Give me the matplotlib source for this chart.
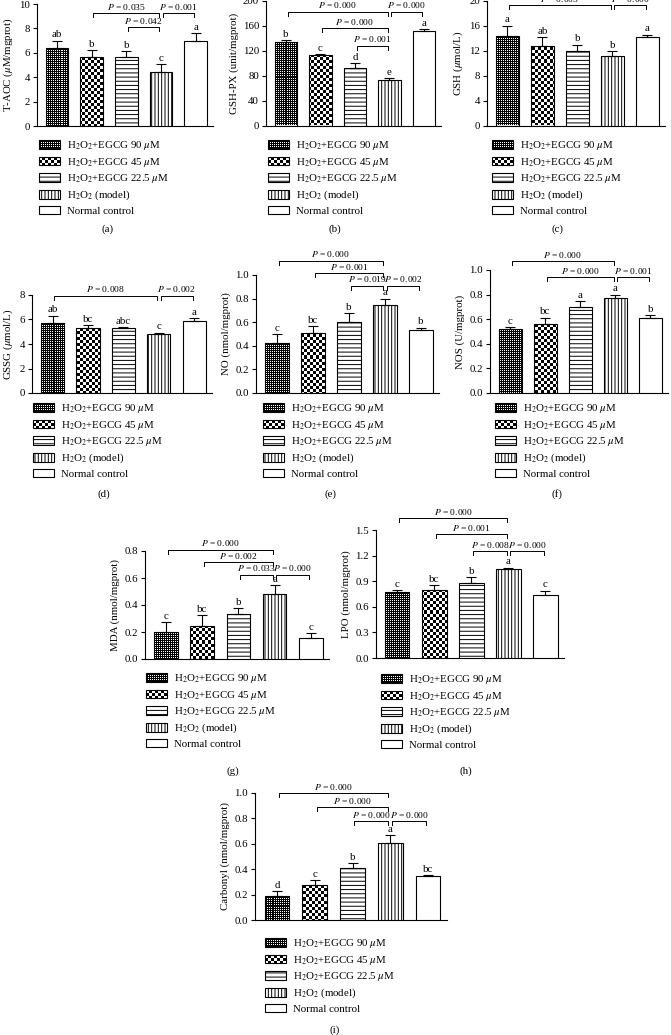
import numpy as np
import matplotlib
matplotlib.use("Agg")
import matplotlib.pyplot as plt
from matplotlib.patches import Rectangle, Patch
from matplotlib.legend_handler import HandlerBase
from matplotlib.ticker import FormatStrFormatter

plt.rcParams['font.family'] = ['Liberation Serif', 'DejaVu Serif']
plt.rcParams['mathtext.fontset'] = 'stix'
plt.rcParams['hatch.linewidth'] = 0.7

# -----------------------------------
# Data
# -----------------------------------
groups = [r"H$_2$O$_2$+EGCG 90 $\mu$M", r"H$_2$O$_2$+EGCG 45 $\mu$M",
          r"H$_2$O$_2$+EGCG 22.5 $\mu$M", r"H$_2$O$_2$ (model)", "Normal control"]

taoc_mean = [6.37, 5.68, 5.63, 4.45, 6.97]
taoc_err = [0.63, 0.55, 0.54, 0.63, 0.63]
taoc_letters = ["ab", "b", "b", "c", "a"]
taoc_pvals = [(1, 3, "0.035"), (3, 4, "0.001"), (2, 3, "0.042")]

gshpx_mean = [133, 113, 92, 72.5, 151.5]
gshpx_err = [4.3, 1.0, 8.5, 2.8, 3.2]
gshpx_letters = ["b", "c", "d", "e", "a"]
gshpx_pvals = [(0, 3, "0.000"), (3, 4, "0.000"), (1, 3, "0.000"), (2, 3, "0.001")]

gsh_mean = [14.4, 12.7, 12.0, 11.2, 14.2]
gsh_err = [1.6, 1.4, 0.95, 0.65, 0.35]
gsh_letters = ["a", "ab", "b", "b", "a"]
gsh_pvals = [(0, 3, "0.005"), (3, 4, "0.000")]

gssg_mean = [5.68, 5.28, 5.33, 4.80, 5.87]
gssg_err = [0.64, 0.24, 0.06, 0.13, 0.26]
gssg_letters = ["ab", "bc", "abc", "c", "a"]
gssg_pvals = [(0, 3, "0.008"), (3, 4, "0.002")]

no_mean = [0.42, 0.51, 0.60, 0.75, 0.535]
no_err = [0.08, 0.06, 0.075, 0.05, 0.02]
no_letters = ["c", "bc", "b", "a", "b"]
no_pvals = [(0, 3, "0.000"), (1, 3, "0.001"), (2, 3, "0.019"), (3, 4, "0.002")]

nos_mean = [0.52, 0.565, 0.70, 0.77, 0.613]
nos_err = [0.013, 0.048, 0.05, 0.03, 0.024]
nos_letters = ["c", "bc", "a", "a", "b"]
nos_pvals = [(0, 3, "0.000"), (1, 3, "0.000"), (3, 4, "0.001")]

mda_mean = [0.20, 0.245, 0.335, 0.48, 0.155]
mda_err = [0.075, 0.08, 0.04, 0.07, 0.04]
mda_letters = ["c", "bc", "b", "a", "c"]
mda_pvals = [(0, 3, "0.000"), (1, 3, "0.002"), (2, 3, "0.033"), (3, 4, "0.000")]

lpo_mean = [0.77, 0.80, 0.88, 1.04, 0.74]
lpo_err = [0.03, 0.06, 0.07, 0.02, 0.05]
lpo_letters = ["c", "bc", "b", "a", "c"]
lpo_pvals = [(0, 3, "0.000"), (1, 3, "0.001"), (2, 3, "0.008"), (3, 4, "0.000")]

carb_mean = [0.19, 0.277, 0.41, 0.61, 0.343]
carb_err = [0.035, 0.04, 0.04, 0.058, 0.012]
carb_letters = ["d", "c", "b", "a", "bc"]
carb_pvals = [(0, 3, "0.000"), (1, 3, "0.000"), (2, 3, "0.000"), (3, 4, "0.000")]

# -----------------------------------
# Layout (pixels in a 671 x 1035 canvas)
# -----------------------------------
W, H = 671, 1035
fig = plt.figure(figsize=(W / 100, H / 100), dpi=100)

FS = 7.8
PFS = 6.8
PX = 72 / 100  # one pixel in points

# fill patterns: 1 = white, 0 = black
motif_90 = [[1, 0], [0, 0]]
motif_45 = [[1, 1, 1, 0, 0, 0]] * 3 + [[0, 0, 0, 1, 1, 1]] * 3


def tile(motif, h, w):
    m = np.array(motif, dtype=float)
    return np.tile(m, (h // m.shape[0] + 1, w // m.shape[1] + 1))[:h, :w]


class CheckerHandler(HandlerBase):
    def __init__(self, motif):
        super().__init__()
        self.motif = np.array(motif)

    def create_artists(self, legend, orig_handle, xdescent, ydescent,
                       width, height, fontsize, trans):
        x0, y0 = -xdescent, -ydescent
        arts = [Rectangle((x0, y0), width, height, facecolor='black',
                          edgecolor='none', transform=trans)]
        nx = int(width / PX)
        ny = int(height / PX)
        t = tile(self.motif, ny, nx)
        for j in range(ny):
            for i in range(nx):
                if t[j, i] > 0:
                    arts.append(Rectangle((x0 + i * PX, y0 + height - (j + 1) * PX),
                                          PX, PX, facecolor='white',
                                          edgecolor='none', transform=trans))
        arts.append(Rectangle((x0, y0), width, height, fill=False,
                              edgecolor='black', lw=0.8, transform=trans))
        return arts


def draw_panel(box, ymax, ystep, ylabel, means, errs, letters, pvals, levels,
               leg_xy, tag, tag_xy, fmt=None):
    x0, x1, ytop, ybot = box
    ax = fig.add_axes([x0 / W, 1 - ybot / H, (x1 - x0) / W, (ybot - ytop) / H])
    xs = np.arange(len(means))
    xlim = (-0.58, 4.5)
    ax.set_xlim(*xlim)
    ax.set_ylim(0, ymax)

    bars = ax.bar(xs, means, width=0.65, facecolor='white', edgecolor='black',
                  linewidth=0.8, zorder=3)
    w_px, h_px = int(x1 - x0), int(ybot - ytop)
    for k, motif in [(0, motif_90), (1, motif_45)]:
        bars[k].set_facecolor('none')
        im = ax.imshow(tile(motif, h_px, w_px), cmap='gray', vmin=0, vmax=1,
                       extent=(xlim[0], xlim[1], 0, ymax), aspect='auto',
                       interpolation='nearest', zorder=2)
        im.set_clip_path(bars[k])
    bars[2].set_hatch('----')
    bars[3].set_hatch('|||||')
    ax.set_xlim(*xlim)
    ax.set_ylim(0, ymax)

    ax.errorbar(xs, means, yerr=[np.zeros(len(errs)), errs], fmt='none',
                ecolor='black', elinewidth=0.8, capsize=3.5, capthick=0.8, zorder=4)
    for x, m, e, let in zip(xs, means, errs, letters):
        ax.annotate(let, (x, m + e), xytext=(0, 0.8), textcoords='offset points',
                    ha='center', va='bottom', fontsize=FS)

    d = 4 / h_px * ymax
    for (i, j, p), y in zip(pvals, levels):
        ax.plot([i + 0.05, i + 0.05, j - 0.05, j - 0.05], [y - d, y, y, y - d],
                color='black', lw=0.7, clip_on=False)
        ax.annotate(f"$P$ = {p}", ((i + j) / 2, y), xytext=(0, 1.0),
                    textcoords='offset points', ha='center', va='bottom',
                    fontsize=PFS, annotation_clip=False)

    ax.set_yticks(np.arange(0, ymax + ystep / 2, ystep))
    if fmt:
        ax.yaxis.set_major_formatter(FormatStrFormatter(fmt))
    ax.set_xticks([])
    ax.tick_params(axis='y', direction='out', length=3, width=0.8,
                   labelsize=FS, pad=2)
    for s in ['top', 'right']:
        ax.spines[s].set_visible(False)
    for s in ['left', 'bottom']:
        ax.spines[s].set_linewidth(0.8)
    ax.set_ylabel(ylabel, fontsize=FS, labelpad=3)

    handles = [Patch(facecolor='black', edgecolor='black'),
               Patch(facecolor='black', edgecolor='black'),
               Patch(facecolor='white', edgecolor='black', lw=0.8, hatch='----'),
               Patch(facecolor='white', edgecolor='black', lw=0.8, hatch='|||||'),
               Patch(facecolor='white', edgecolor='black', lw=0.8)]
    hmap = {handles[0]: CheckerHandler(motif_90), handles[1]: CheckerHandler(motif_45)}
    lx, ly = leg_xy
    ax.legend(handles, groups, handler_map=hmap, loc='upper left',
              bbox_to_anchor=(lx / W, 1 - (ly - 6) / H), bbox_transform=fig.transFigure,
              frameon=False, borderpad=0, borderaxespad=0, handlelength=1.95,
              handleheight=0.85, handletextpad=0.6, labelspacing=0.33, fontsize=FS)
    fig.text(tag_xy[0] / W, 1 - tag_xy[1] / H, tag, ha='center', va='center', fontsize=FS)
    return ax


draw_panel((37, 213, 4, 126), 10, 2, r"T-AOC ($\mu$M/mgprot)",
           taoc_mean, taoc_err, taoc_letters, taoc_pvals, [9.26, 9.26, 8.1],
           (39, 145), "(a)", (108, 229))
draw_panel((266, 441, 0.5, 125.5), 200, 40, "GSH-PX (unit/mgprot)",
           gshpx_mean, gshpx_err, gshpx_letters, gshpx_pvals, [182, 182, 155.5, 128],
           (268, 145), "(b)", (335, 229))
draw_panel((487, 665, 0.5, 125.5), 20, 4, r"GSH ($\mu$mol/L)",
           gsh_mean, gsh_err, gsh_letters, gsh_pvals, [19.25, 19.25],
           (492, 145), "(c)", (557, 229))
draw_panel((32, 212, 295, 393), 8, 2, r"GSSG ($\mu$mol/L)",
           gssg_mean, gssg_err, gssg_letters, gssg_pvals, [7.95, 7.95],
           (33, 408), "(d)", (104, 494))
draw_panel((256, 439, 275, 393), 1.0, 0.2, "NO (nmol/mgprot)",
           no_mean, no_err, no_letters, no_pvals, [1.12, 1.015, 0.91, 0.91],
           (263, 408), "(e)", (330, 494), "%.1f")
draw_panel((490, 668, 270, 393), 1.0, 0.2, "NOS (U/mgprot)",
           nos_mean, nos_err, nos_letters, nos_pvals, [1.07, 0.94, 0.94],
           (495, 408), "(f)", (557, 494), "%.1f")
draw_panel((145, 329, 551, 659), 0.8, 0.2, "MDA (nmol/mgprot)",
           mda_mean, mda_err, mda_letters, mda_pvals, [0.81, 0.715, 0.625, 0.625],
           (146, 678), "(g)", (233, 771), "%.1f")
draw_panel((376, 564, 530, 658), 1.5, 0.3, "LPO (nmol/mgprot)",
           lpo_mean, lpo_err, lpo_letters, lpo_pvals, [1.64, 1.45, 1.25, 1.25],
           (381, 679), "(h)", (466, 771), "%.1f")
draw_panel((255, 447, 793, 920), 1.0, 0.2, "Carbonyl (nmol/mgprot)",
           carb_mean, carb_err, carb_letters, carb_pvals, [1.0, 0.89, 0.78, 0.78],
           (265, 943), "(i)", (335, 1030), "%.1f")

fig.savefig("out.png", dpi=100)
